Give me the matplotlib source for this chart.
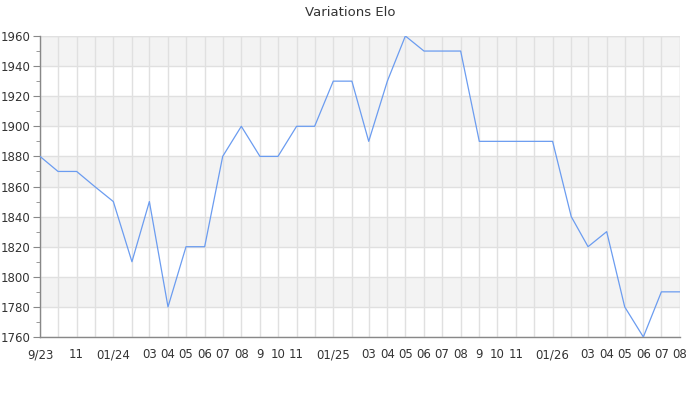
import numpy as np
import matplotlib
matplotlib.use('Agg')
import matplotlib.pyplot as plt
import matplotlib.dates as mdates
from matplotlib.ticker import FixedLocator, MultipleLocator
from datetime import date

# monthly Elo values, Sep 2023 .. Aug 2026
months = [date(2023 + (8 + i) // 12, (8 + i) % 12 + 1, 1) for i in range(36)]
elo = [1880, 1870, 1870, 1860, 1850, 1810, 1850, 1780, 1820, 1820, 1880, 1900,
       1880, 1880, 1900, 1900, 1930, 1930, 1890, 1930, 1960, 1950, 1950, 1950,
       1890, 1890, 1890, 1890, 1890, 1840, 1820, 1830, 1780, 1760, 1790, 1790]
month_labels = ["9/23", "", "11", "", "01/24", "", "03", "04", "05", "06", "07", "08",
                "9", "10", "11", "", "01/25", "", "03", "04", "05", "06", "07", "08",
                "9", "10", "11", "", "01/26", "", "03", "04", "05", "06", "07", "08"]
y_ticks = list(range(1760, 1961, 20))

fig = plt.figure(figsize=(7, 4), dpi=100)
ax = fig.add_axes([40 / 700, 63 / 400, 640 / 700, 301 / 400])

x = mdates.date2num(months)
ax.set_xlim(x[0], x[-1])
ax.set_ylim(y_ticks[0], y_ticks[-1])

# alternating bands
for i, lo in enumerate(y_ticks[:-1]):
    if i % 2 == 0:
        continue
    ax.axhspan(lo, lo + 20, color='#f3f3f3', zorder=0, lw=0)

ax.xaxis.set_major_locator(FixedLocator(x))
ax.set_xticks(x)
ax.set_xticklabels(month_labels)
ax.set_yticks(y_ticks)
ax.yaxis.set_minor_locator(MultipleLocator(10))
ax.grid(True, color='#e0e0e0', lw=1, zorder=1)
ax.set_axisbelow(True)

ax.plot(x, elo, color='#6b9cf0', lw=0.9, zorder=3)

for s in ['top', 'right']:
    ax.spines[s].set_visible(False)
for s in ['left', 'bottom']:
    ax.spines[s].set_color('#888888')
    ax.spines[s].set_linewidth(1)
ax.axvline(x[-1], color='#e0e0e0', lw=1, zorder=1)
ax.axhline(y_ticks[-1], color='#e0e0e0', lw=1, zorder=1)

ax.tick_params(axis='x', length=0, pad=8, labelsize=8.5, labelcolor='#333333')
ax.tick_params(axis='y', which='major', length=5, color='#888888', labelsize=8.5, labelcolor='#333333', pad=2)
ax.tick_params(axis='y', which='minor', length=3, color='#888888')

fig.text(0.5, 1 - 12 / 400, "Variations Elo", ha='center', va='center', fontsize=9.5, color='#333333')

fig.savefig('out.png', dpi=100)
